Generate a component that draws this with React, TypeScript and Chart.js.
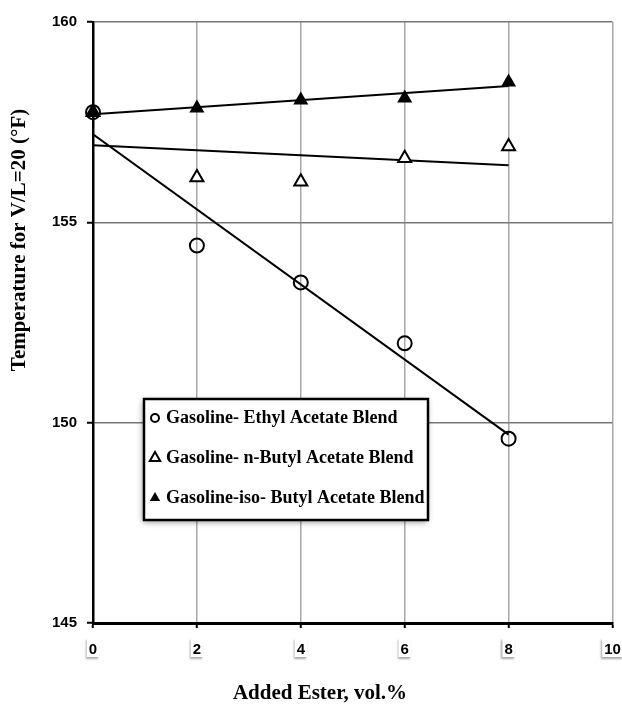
import React, { useEffect, useRef } from "react";
import { Chart, registerables } from "chart.js";

Chart.register(...registerables);

// Added ester content, vol.%
const esterVol = [0, 2, 4, 6, 8];
// Temperature for V/L = 20 (°F) for each blend
const ethylAcetate = [157.75, 154.42, 153.5, 151.98, 149.6];
const nButylAcetate = [157.75, 156.12, 156.01, 156.6, 156.89];
const isoButylAcetate = [157.75, 157.85, 158.05, 158.1, 158.5];

const seriesLabels = [
  "Gasoline- Ethyl Acetate Blend",
  "Gasoline- n-Butyl Acetate Blend",
  "Gasoline-iso- Butyl Acetate Blend",
];

const xTicks = [0, 2, 4, 6, 8, 10];
const yTicks = [145, 150, 155, 160];

const W = 622;
const H = 704;
const SERIF = "'Liberation Serif', 'Times New Roman', serif";
const SANS = "'Liberation Sans', Arial, sans-serif";
const TICK_FONT = { family: SANS, size: 15, weight: "bold" as const };

// least-squares linear trend evaluated at the first and last x
function trend(xs: number[], ys: number[]) {
  const n = xs.length;
  const mx = xs.reduce((a, b) => a + b, 0) / n;
  const my = ys.reduce((a, b) => a + b, 0) / n;
  let sxy = 0;
  let sxx = 0;
  for (let i = 0; i < n; i++) {
    sxy += (xs[i] - mx) * (ys[i] - my);
    sxx += (xs[i] - mx) * (xs[i] - mx);
  }
  const slope = sxy / sxx;
  const b = my - slope * mx;
  const x0 = xs[0];
  const x1 = xs[n - 1];
  return [
    { x: x0, y: b + slope * x0 },
    { x: x1, y: b + slope * x1 },
  ];
}

const pts = (ys: number[]) => esterVol.map((x, i) => ({ x, y: ys[i] }));

function drawMarker(ctx: CanvasRenderingContext2D, kind: string, x: number, y: number, r: number) {
  ctx.save();
  ctx.lineWidth = 2;
  ctx.strokeStyle = "#000";
  ctx.beginPath();
  if (kind === "circle") {
    ctx.arc(x, y, r, 0, Math.PI * 2);
    ctx.fillStyle = "#fff";
    ctx.fill();
    ctx.stroke();
  } else {
    const w = (r * Math.sqrt(3)) / 2;
    ctx.moveTo(x, y - r);
    ctx.lineTo(x + w, y + r / 2);
    ctx.lineTo(x - w, y + r / 2);
    ctx.closePath();
    if (kind === "open") {
      ctx.fillStyle = "#fff";
      ctx.fill();
      ctx.stroke();
    } else {
      ctx.fillStyle = "#000";
      ctx.fill();
    }
  }
  ctx.restore();
}

// soft label plates behind the x tick numbers
const tickPlates = {
  id: "tickPlates",
  beforeDraw(chart: any) {
    const ctx: CanvasRenderingContext2D = chart.ctx;
    const xs = chart.scales.x;
    ctx.save();
    ctx.font = `bold ${TICK_FONT.size}px ${SANS}`;
    xTicks.forEach((v) => {
      const px = xs.getPixelForValue(v);
      const w = ctx.measureText(String(v)).width + 4;
      ctx.shadowColor = "rgba(0,0,0,0.35)";
      ctx.shadowBlur = 2;
      ctx.shadowOffsetX = -1;
      ctx.shadowOffsetY = 1.5;
      ctx.fillStyle = "#fff";
      ctx.fillRect(px - w / 2, xs.top + 15, w, 19);
    });
    ctx.restore();
  },
};

const overlay = {
  id: "overlay",
  afterDraw(chart: any) {
    const ctx: CanvasRenderingContext2D = chart.ctx;
    const area = chart.chartArea;

    // axis titles
    ctx.save();
    ctx.fillStyle = "#000";
    ctx.font = `bold 21px ${SERIF}`;
    ctx.textAlign = "center";
    ctx.textBaseline = "middle";
    ctx.fillText("Added Ester, vol.%", 320, 694);
    ctx.translate(20, 240);
    ctx.rotate(-Math.PI / 2);
    ctx.fillText("Temperature for V/L=20 (°F)", 0, 0);
    ctx.restore();

    // legend box
    const lx = area.left + 51;
    const ly = area.top + 377;
    const lw = 284;
    const lh = 121;
    ctx.save();
    ctx.shadowColor = "rgba(0,0,0,0.45)";
    ctx.shadowBlur = 6;
    ctx.shadowOffsetX = -1;
    ctx.shadowOffsetY = 2;
    ctx.fillStyle = "#fff";
    ctx.fillRect(lx, ly, lw, lh);
    ctx.restore();
    ctx.save();
    ctx.lineWidth = 2.5;
    ctx.strokeStyle = "#000";
    ctx.strokeRect(lx, ly, lw, lh);
    ctx.restore();

    const kinds = ["circle", "open", "filled"];
    ctx.save();
    ctx.font = `bold 18px ${SERIF}`;
    ctx.fillStyle = "#000";
    ctx.textBaseline = "middle";
    ctx.textAlign = "left";
    seriesLabels.forEach((label, i) => {
      const ry = ly + 19 + i * 40;
      drawMarker(ctx, kinds[i], lx + 11, ry, i === 0 ? 4 : 6);
      ctx.fillText(label, lx + 22, ry);
    });
    ctx.restore();
  },
};

export default function App() {
  const canvasRef = useRef<HTMLCanvasElement | null>(null);

  useEffect(() => {
    document.body.style.margin = "0";
    const canvas = canvasRef.current;
    if (!canvas) return;

    const marker = {
      borderColor: "#000",
      backgroundColor: "#fff",
      borderWidth: 2,
      showLine: false,
      clip: false as const,
    };
    const trendStyle = {
      type: "line" as const,
      borderColor: "#000",
      borderWidth: 2,
      pointRadius: 0,
      fill: false,
      showLine: true,
      order: 5,
    };

    const chart = new Chart(canvas, {
      type: "scatter",
      data: {
        datasets: [
          { ...trendStyle, label: "trend-ethyl", data: trend(esterVol, ethylAcetate) },
          { ...trendStyle, label: "trend-n", data: trend(esterVol, nButylAcetate) },
          { ...trendStyle, label: "trend-iso", data: trend(esterVol, isoButylAcetate) },
          {
            ...marker,
            label: seriesLabels[1],
            data: pts(nButylAcetate),
            pointStyle: "triangle",
            pointRadius: 7.5,
            order: 3,
          },
          {
            ...marker,
            label: seriesLabels[0],
            data: pts(ethylAcetate),
            pointStyle: "circle",
            pointRadius: 7,
            backgroundColor: "rgba(255,255,255,0)",
            order: 2,
          },
          {
            ...marker,
            label: seriesLabels[2],
            data: pts(isoButylAcetate),
            pointStyle: "triangle",
            pointRadius: 8.7,
            backgroundColor: "#000",
            borderWidth: 0,
            order: 1,
          },
        ],
      },
      options: {
        responsive: false,
        animation: false,
        events: [],
        layout: { padding: { left: 0, top: 22, right: 9, bottom: 0 } },
        plugins: {
          legend: { display: false },
          tooltip: { enabled: false },
          title: { display: false },
        },
        scales: {
          x: {
            type: "linear",
            min: 0,
            max: 10,
            afterBuildTicks: (s: any) => {
              s.ticks = xTicks.map((v) => ({ value: v }));
            },
            afterFit: (s: any) => {
              s.height = 81;
              s.paddingLeft = 0;
              s.paddingRight = 0;
            },
            ticks: {
              color: "#000",
              padding: 13,
              font: TICK_FONT,
            },
            grid: {
              color: (c: any) => (c.tick && c.tick.value === 0 ? "rgba(0,0,0,0)" : "#a8a8a8"),
              lineWidth: 1.5,
              tickColor: "#000",
              tickLength: 5,
              tickWidth: 2,
            },
            border: { color: "#000", width: 3 },
          },
          y: {
            type: "linear",
            min: 145,
            max: 160,
            afterBuildTicks: (s: any) => {
              s.ticks = yTicks.map((v) => ({ value: v }));
            },
            afterFit: (s: any) => {
              s.width = 93;
              s.paddingTop = 0;
              s.paddingBottom = 0;
            },
            ticks: {
              color: "#000",
              padding: 10,
              font: TICK_FONT,
            },
            grid: {
              color: (c: any) => (c.tick && c.tick.value === 145 ? "rgba(0,0,0,0)" : "#767676"),
              lineWidth: 1.5,
              tickColor: "#000",
              tickLength: 6,
              tickWidth: 2,
            },
            border: { color: "#000", width: 2.5 },
          },
        },
      },
      plugins: [tickPlates, overlay],
    });

    return () => chart.destroy();
  }, []);

  return (
    <div style={{ position: "relative", width: W, height: H, background: "#fff" }}>
      <canvas ref={canvasRef} width={W} height={H} style={{ display: "block" }} />
    </div>
  );
}
